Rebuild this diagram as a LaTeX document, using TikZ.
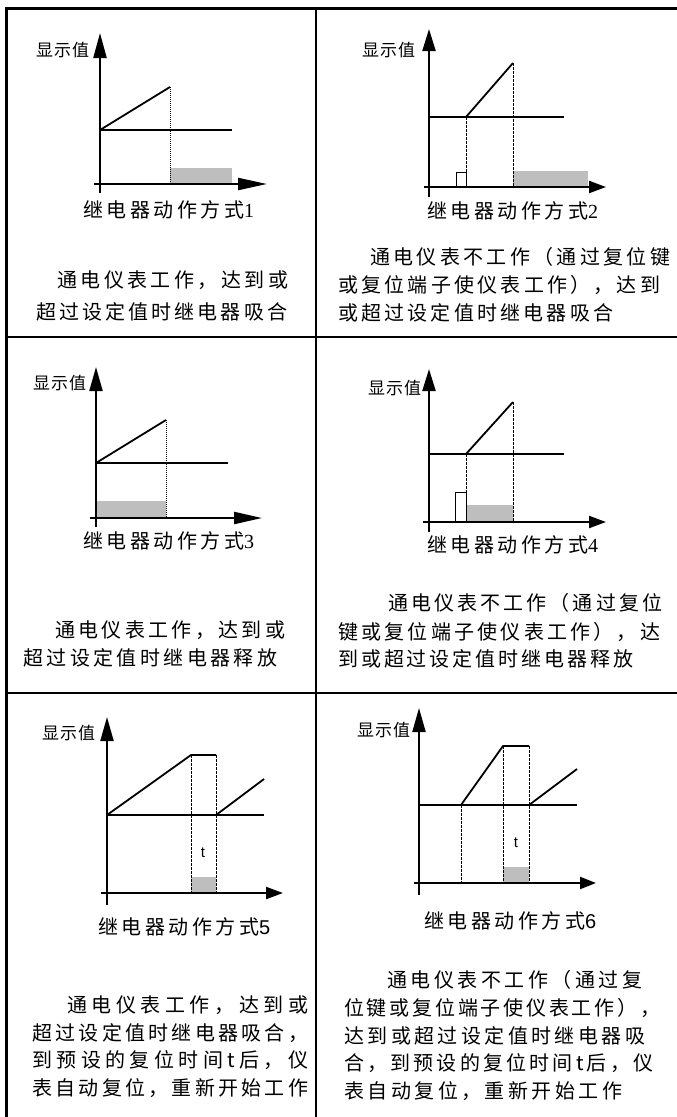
\documentclass[tikz,border=0pt]{standalone}
\usepackage{fontspec}
\usetikzlibrary{arrows.meta}
\newfontfamily\cjk{Noto Sans CJK SC}
\newfontfamily\serifdig{Liberation Serif}
\newfontfamily\sansdig{Liberation Sans}
\definecolor{barfill}{RGB}{190,190,190}
\makeatletter
\newcommand\jline[2]{\hbox to #1pt{\let\jl@sep\relax\@tfor\jl@c:=#2\do{\jl@sep\jl@c\let\jl@sep\hfil}}}
\newcommand\kline[2]{\let\kl@sep\relax\@tfor\kl@c:=#2\do{\kl@sep\kl@c\def\kl@sep{\kern#1pt}}}
\makeatother
\begin{document}
\begin{tikzpicture}[x=1pt,y=-1pt,
  gridline/.style={line width=2pt, black},
  borderline/.style={line width=3pt, black},
  axisline/.style={line width=2.2pt, black},
  tipY/.style={-{Triangle[length=#1,width=13pt]}},
  tipX/.style={-{Triangle[length=#1,width=12pt]}},
  curve/.style={line width=1.8pt, black},
  guide/.style={line width=0.7pt, dash pattern=on 2.5pt off 1.5pt},
  dotguide/.style={line width=0.7pt, dash pattern=on 1pt off 1pt},
  bar/.style={fill=barfill},
  pulse/.style={draw=black, line width=1pt, fill=white},
  bodytxt/.style={inner sep=0pt, anchor=west, font=\cjk\fontsize{20}{20}\selectfont},
  captxt/.style={inner sep=0pt, anchor=west, font=\cjk\fontsize{20}{20}\selectfont},
  ylab/.style={inner sep=0pt, anchor=west, font=\cjk\fontsize{17}{17}\selectfont},
  tlab/.style={inner sep=0pt, font=\sansdig\fontsize{15}{15}\selectfont}]
\useasboundingbox (0,0) rectangle (677,1117);
% table grid
\draw[borderline] (5,8.5) -- (677,8.5);
\draw[borderline] (6.5,7) -- (6.5,1117);
\draw[gridline] (315.7,8.5) -- (315.7,1117);
\draw[gridline] (6.5,337) -- (677,337);
\draw[gridline] (6.5,693) -- (677,693);

% ---------- panel 1 ----------
\fill[bar] (170,168) rectangle (232,184);
\draw[dotguide] (170,87) -- (170,184);
\draw[curve] (100,130) -- (232,130);
\draw[curve] (100,130) -- (170,87);
\draw[axisline, tipY=25pt] (100,193) -- (100,33);
\draw[axisline, tipX=29pt] (94,184) -- (267,184);
\node[ylab] (lab1) at (36,50) {\kline{1}{显示值}};
\node[captxt] (cap1) at (83,210) {\kline{3.5}{继电器动作方式}{\serifdig 1}};
\node[bodytxt] (t1a) at (57,280) {\jline{231}{通电仪表工作，达到或}};
\node[bodytxt] (t1b) at (36,312) {\jline{251}{超过设定值时继电器吸合}};

% ---------- panel 2 ----------
\fill[bar] (513,171) rectangle (588,187);
\draw[pulse] (456,172) rectangle (466,187);
\draw[guide] (466,117) -- (466,187);
\draw[guide] (513,63) -- (513,187);
\draw[curve] (429,117) -- (564,117);
\draw[curve] (466,117) -- (513,63);
\draw[axisline, tipY=22pt] (429,197) -- (429,29);
\draw[axisline, tipX=17pt] (424,187) -- (606,187);
\node[ylab] (lab2) at (362,50) {\kline{1}{显示值}};
\node[captxt] (cap2) at (427,211) {\kline{3.5}{继电器动作方式}{\serifdig 2}};
\node[bodytxt] (t2a) at (370,257) {\jline{300}{通电仪表不工作（通过复位键}};
\node[bodytxt] (t2b) at (338,285) {\jline{322}{或复位端子使仪表工作），达到}};
\node[bodytxt] (t2c) at (338,313) {\jline{275}{或超过设定值时继电器吸合}};

% ---------- panel 3 ----------
\fill[bar] (96,501) rectangle (166,518);
\draw[dotguide] (166,420) -- (166,518);
\draw[curve] (96,463) -- (228,463);
\draw[curve] (96,463) -- (166,420);
\draw[axisline, tipY=24pt] (96,527) -- (96,367);
\draw[axisline, tipX=28pt] (90,518) -- (262,518);
\node[ylab] (lab3) at (33,383) {\kline{1}{显示值}};
\node[captxt] (cap3) at (83,541) {\kline{3.5}{继电器动作方式}{\serifdig 3}};
\node[bodytxt] (t3a) at (55,630) {\jline{230}{通电仪表工作，达到或}};
\node[bodytxt] (t3b) at (23,658) {\jline{254}{超过设定值时继电器释放}};

% ---------- panel 4 ----------
\fill[bar] (466,505) rectangle (513,522);
\draw[pulse] (455,492) rectangle (466,522);
\draw[guide] (466,454) -- (466,522);
\draw[guide] (513,402) -- (513,522);
\draw[curve] (429,454) -- (564,454);
\draw[curve] (466,454) -- (513,402);
\draw[axisline, tipY=22pt] (429,532) -- (429,369);
\draw[axisline, tipX=17pt] (423,522) -- (606,522);
\node[ylab] (lab4) at (368,388) {\kline{1}{显示值}};
\node[captxt] (cap4) at (427,545) {\kline{3.5}{继电器动作方式}{\serifdig 4}};
\node[bodytxt] (t4a) at (388,603) {\jline{274}{通电仪表不工作（通过复位}};
\node[bodytxt] (t4b) at (338,632) {\jline{322}{键或复位端子使仪表工作），达}};
\node[bodytxt] (t4c) at (338,659) {\jline{295}{到或超过设定值时继电器释放}};

% ---------- panel 5 ----------
\fill[bar] (191,877) rectangle (216,893);
\draw[guide] (191,755) -- (191,893);
\draw[guide] (216,755) -- (216,893);
\draw[curve] (107,815) -- (264,815);
\draw[curve] (107,815) -- (191,755) -- (216,755);
\draw[curve] (216,815) -- (264,779);
\draw[axisline, tipY=24pt] (107,905) -- (107,717);
\draw[axisline, tipX=17pt] (101,893) -- (283,893);
\node[tlab] (tt5) at (203,853) {t};
\node[ylab] (lab5) at (42,733) {\kline{1}{显示值}};
\node[captxt] (cap5) at (98,927) {\kline{3.5}{继电器动作方式}{\sansdig 5}};
\node[bodytxt] (t5a) at (67,1005) {\jline{241}{通电仪表工作，达到或}};
\node[bodytxt] (t5b) at (32,1033) {\jline{276}{超过设定值时继电器吸合，}};
\node[bodytxt] (t5c) at (32,1060) {\jline{276}{到预设的复位时间t后，仪}};
\node[bodytxt] (t5d) at (32,1088) {\jline{276}{表自动复位，重新开始工作}};

% ---------- panel 6 ----------
\fill[bar] (503,867) rectangle (529,883);
\draw[guide] (461,805) -- (461,883);
\draw[guide] (503,746) -- (503,883);
\draw[guide] (529,746) -- (529,883);
\draw[curve] (419,805) -- (577,805);
\draw[curve] (461,805) -- (503,746) -- (529,746);
\draw[curve] (529,805) -- (577,769);
\draw[axisline, tipY=24pt] (419,895) -- (419,708);
\draw[axisline, tipX=16pt] (414,883) -- (596,883);
\node[tlab] (tt6) at (516,843) {t};
\node[ylab] (lab6) at (357,730) {\kline{1}{显示值}};
\node[captxt] (cap6) at (424,921) {\kline{3.5}{继电器动作方式}{\sansdig 6}};
\node[bodytxt] (t6a) at (387,980) {\jline{255}{通电仪表不工作（通过复}};
\node[bodytxt] (t6b) at (344,1008) {\jline{316}{位键或复位端子使仪表工作），}};
\node[bodytxt] (t6c) at (344,1036) {\jline{301}{达到或超过设定值时继电器吸}};
\node[bodytxt] (t6d) at (344,1063) {\jline{309}{合，到预设的复位时间t后，仪}};
\node[bodytxt] (t6e) at (344,1091) {\jline{278}{表自动复位，重新开始工作}};
\end{tikzpicture}
\end{document}
